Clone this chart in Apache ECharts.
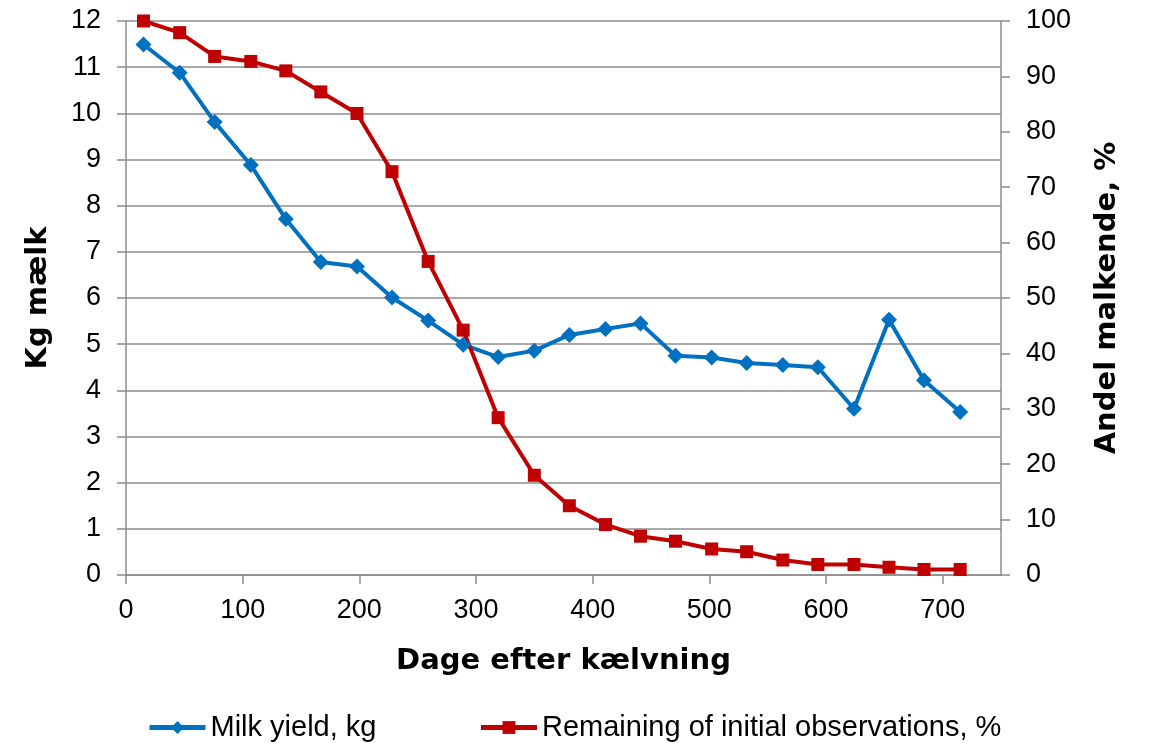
<!DOCTYPE html>
<html>
<head>
<meta charset="UTF-8">
<title>Milk yield</title>
<style type="text/css">
	body{margin: 0;padding: 0;background: #fff;}
	#chart{width: 1151px;height: 749px;}
</style>
</head>
<body>
<div id="chart"></div>
<script src="https://cdn.jsdelivr.net/npm/echarts@6/dist/echarts.min.js"></script>
<script>
	// dage efter kælvning (midt i hver måned)
	var days = [15, 46, 76, 107, 137, 167, 198, 228, 259, 289, 319, 350,
		380, 411, 441, 471, 502, 532, 563, 593, 624, 654, 684, 715];
	// kg mælk
	var milkYield = [11.49, 10.88, 9.81, 8.88, 7.71, 6.78, 6.68, 6.01, 5.51, 4.99, 4.72, 4.86,
		5.20, 5.33, 5.45, 4.75, 4.71, 4.59, 4.55, 4.50, 3.60, 5.53, 4.22, 3.53];
	// andel tilbage af de oprindelige observationer, %
	var remaining = [100, 97.9, 93.6, 92.7, 91.0, 87.2, 83.3, 72.8, 56.6, 44.2, 28.4, 18.0,
		12.5, 9.1, 7.0, 6.1, 4.7, 4.2, 2.7, 1.9, 1.9, 1.4, 1.0, 1.0];
	var xTicks = [0, 100, 200, 300, 400, 500, 600, 700];

	function pairs(xs, ys) {
		var out = [];
		for (var i = 0; i < xs.length; i++) out.push([xs[i], ys[i]]);
		return out;
	}

	var gray = '#8c8c8c';
	var tickFont = {color: '#000', fontSize: 27, fontFamily: 'Liberation Sans'};
	var titleFont = {color: '#000', fontSize: 29, fontWeight: 'bold', fontFamily: 'DejaVu Sans'};

	var chart = echarts.init(document.getElementById('chart'));
	chart.setOption({
		animation: false,
		grid: {left: 126, right: 150, top: 21, bottom: 174, containLabel: false},
		legend: {
			bottom: 2,
			left: 142,
			itemWidth: 56,
			itemHeight: 16,
			itemGap: 102,
			lineStyle: {width: 5},
			textStyle: {color: '#000', fontSize: 29, fontFamily: 'Liberation Sans'},
			data: ['Milk yield, kg', 'Remaining of initial observations, %']
		},
		xAxis: {
			type: 'value',
			min: 0, max: 750, interval: 100,
			name: 'Dage efter kælvning',
			nameLocation: 'middle',
			nameGap: 72,
			nameTextStyle: titleFont,
			axisLine: {show: true, onZero: false, lineStyle: {color: gray, width: 1.5}},
			axisTick: {show: true, length: 9, customValues: xTicks, lineStyle: {color: gray, width: 1.5}},
			axisLabel: Object.assign({margin: 22, customValues: xTicks}, tickFont),
			splitLine: {show: false}
		},
		yAxis: [{
			type: 'value',
			min: 0, max: 12, interval: 1,
			name: 'Kg mælk',
			nameLocation: 'middle',
			nameRotate: 90,
			nameGap: 73,
			nameTextStyle: titleFont,
			axisLine: {show: true, lineStyle: {color: gray, width: 1.5}},
			axisTick: {show: true, length: 9, lineStyle: {color: gray, width: 1.5}},
			axisLabel: Object.assign({margin: 25}, tickFont),
			splitLine: {show: true, lineStyle: {color: gray, width: 1.5}}
		}, {
			type: 'value',
			position: 'right',
			min: 0, max: 100, interval: 10,
			name: 'Andel malkende, %',
			nameLocation: 'middle',
			nameRotate: 90,
			nameGap: 92,
			nameTextStyle: titleFont,
			axisLine: {show: true, lineStyle: {color: gray, width: 1.5}},
			axisTick: {show: true, length: 9, lineStyle: {color: gray, width: 1.5}},
			axisLabel: Object.assign({margin: 25}, tickFont),
			splitLine: {show: false}
		}],
		series: [{
			name: 'Milk yield, kg',
			type: 'line',
			yAxisIndex: 0,
			data: pairs(days, milkYield),
			symbol: 'diamond',
			symbolSize: 16,
			lineStyle: {color: '#0070C0', width: 4},
			itemStyle: {color: '#0070C0'}
		}, {
			name: 'Remaining of initial observations, %',
			type: 'line',
			yAxisIndex: 1,
			data: pairs(days, remaining),
			symbol: 'rect',
			symbolSize: 13,
			lineStyle: {color: '#C00000', width: 4},
			itemStyle: {color: '#C00000'}
		}]
	});
</script>
</body>
</html>
